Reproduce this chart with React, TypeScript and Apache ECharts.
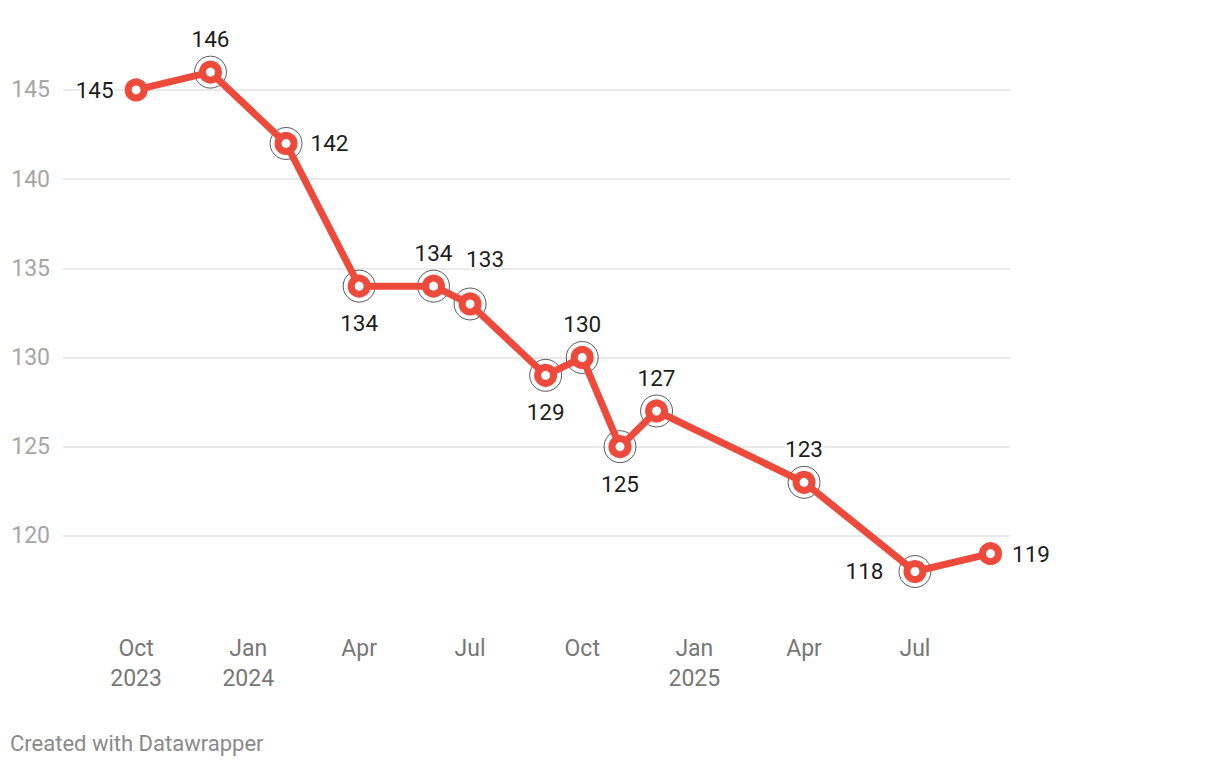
import React, { useEffect, useRef } from "react";
import * as echarts from "echarts";

// ---- data ----
const months = [
  "2023-10", "2023-12", "2024-02", "2024-04", "2024-06", "2024-07", "2024-09",
  "2024-10", "2024-11", "2024-12", "2025-04", "2025-07", "2025-09",
];
const values = [145, 146, 142, 134, 134, 133, 129, 130, 125, 127, 123, 118, 119];
const ringed = [false, true, true, true, true, true, true, true, true, true, true, true, false];
const xTickMonths = ["2023-10", "2024-01", "2024-04", "2024-07", "2024-10", "2025-01", "2025-04", "2025-07"];
const xTickLabels = ["Oct\n2023", "Jan\n2024", "Apr", "Jul", "Oct", "Jan\n2025", "Apr", "Jul"];

// ---- label placement (style) ----
const labelPos = ["left", "top", "right", "bottom", "top", "top", "bottom", "top", "bottom", "top", "top", "left", "right"];
const labelDist = [11, 10, 13, 14, 10, 10, 14, 10, 14, 10, 10, 20, 10];

const DAY = 86400000;
const START = Date.UTC(2023, 9, 1);
// days since 1 Oct 2023
const toDay = (ym: string) => {
  const [y, m] = ym.split("-").map(Number);
  return Math.round((Date.UTC(y, m - 1, 1) - START) / DAY);
};

const RED = "#ee4a3b";

export default function App() {
  const ref = useRef<HTMLDivElement>(null);
  useEffect(() => {
    if (!ref.current) return;
    const chart = echarts.init(ref.current, null, { renderer: "svg" });
    const tickDays = xTickMonths.map(toDay);
    const lineData = values.map((v, i) => {
      const item: any = {
        value: [toDay(months[i]), v],
        label: { position: labelPos[i], distance: labelDist[i] },
      };
      if (i === 5) item.label.offset = [15, -12];
      return item;
    });
    const ringData = values
      .map((v, i) => (ringed[i] ? [toDay(months[i]), v] : null))
      .filter((d) => d !== null);

    chart.setOption({
      animation: false,
      backgroundColor: "#ffffff",
      textStyle: { fontFamily: "Roboto" },
      grid: { left: 63, width: 947, top: 0.8, height: 624.2, containLabel: false },
      xAxis: {
        type: "value",
        min: -60,
        max: 717,
        axisLine: { show: false },
        axisTick: { show: false },
        splitLine: { show: false },
        axisLabel: {
          customValues: tickDays,
          formatter: (val: number) => {
            let best = 0;
            tickDays.forEach((t, i) => {
              if (Math.abs(t - val) < Math.abs(tickDays[best] - val)) best = i;
            });
            return xTickLabels[best];
          },
          color: "#777777",
          fontSize: 23,
          lineHeight: 30,
          margin: 8,
          fontFamily: "Roboto",
        },
      },
      yAxis: {
        type: "value",
        min: 115,
        max: 150,
        interval: 5,
        axisLine: { show: false },
        axisTick: { show: false },
        axisLabel: {
          showMinLabel: false,
          showMaxLabel: false,
          color: "#a6a6a6",
          fontSize: 23,
          margin: 13,
          fontFamily: "Roboto",
        },
        splitLine: {
          show: true,
          showMinLine: false,
          showMaxLine: false,
          lineStyle: { color: "#e2e2e2", width: 1.5 },
        },
      },
      series: [
        {
          type: "scatter",
          data: ringData,
          symbol: "circle",
          symbolSize: 32,
          z: 1,
          silent: true,
          itemStyle: { color: "rgba(0,0,0,0)", borderColor: "#1a1a1a", borderWidth: 0.9 },
        },
        {
          type: "line",
          data: lineData,
          z: 3,
          symbol: "circle",
          symbolSize: 16,
          showAllSymbol: true,
          lineStyle: { color: RED, width: 7 },
          itemStyle: { color: "#ffffff", borderColor: RED, borderWidth: 7 },
          label: {
            show: true,
            color: "#1d1d1d",
            fontSize: 22.5,
            fontFamily: "Roboto",
            textBorderColor: "#ffffff",
            textBorderWidth: 4,
            formatter: (p: any) => String(p.value[1]),
          },
        },
      ],
      graphic: [
        {
          type: "text",
          left: 10,
          top: 732,
          style: {
            text: "Created with Datawrapper",
            fill: "#8a8a8a",
            font: "22px Roboto",
          },
        },
      ],
    });
    return () => chart.dispose();
  }, []);
  return (
    <div style={{ position: "absolute", left: 0, top: 0, width: 1220, height: 768, background: "#fff" }}>
      <div ref={ref} style={{ width: 1220, height: 768 }} />
    </div>
  );
}
